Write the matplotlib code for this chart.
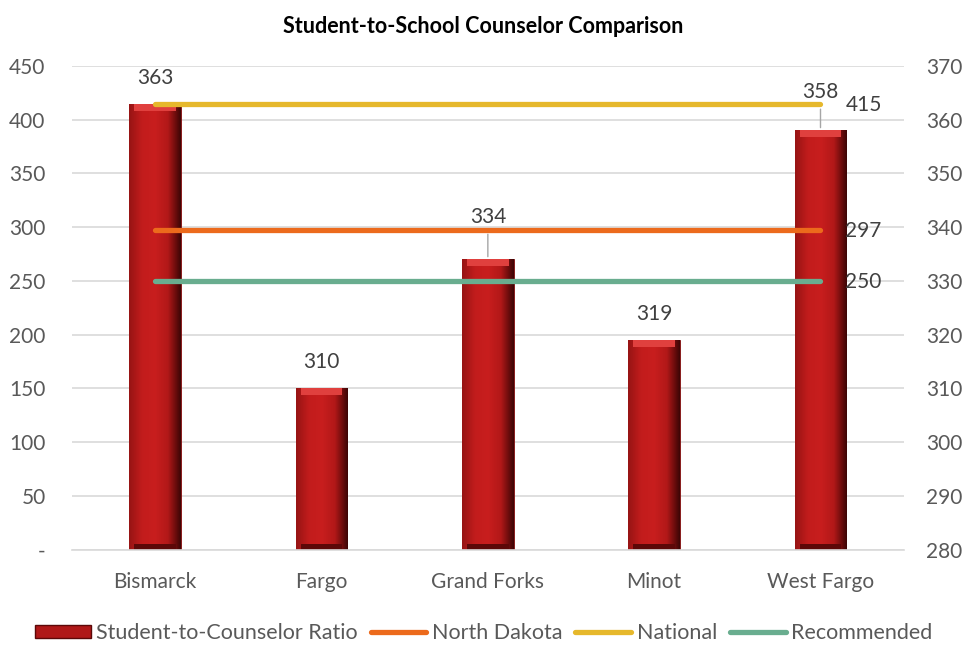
import matplotlib.pyplot as plt
import numpy as np
from matplotlib.colors import LinearSegmentedColormap
from matplotlib.lines import Line2D
from matplotlib.patches import Patch

districts = ['Bismarck', 'Fargo', 'Grand Forks', 'Minot', 'West Fargo']
ratios = [363, 310, 334, 319, 358]
north_dakota = 297
national = 415
recommended = 250

left_ticks = list(range(0, 451, 50))
left_labels = ['-'] + [str(t) for t in left_ticks[1:]]
right_ticks = list(range(280, 371, 10))

plt.rcParams['font.family'] = ['Lato', 'DejaVu Sans']

fig = plt.figure(figsize=(9.67, 6.46), dpi=100)
ax = fig.add_axes([0.0745, 0.149, 0.86, 0.749])
x = np.arange(len(districts))
width = 0.31

# bars live on the right-hand scale, drawn underneath the lines
bars = ax.bar(x, [r - 280 for r in ratios], width, bottom=280,
              color='#C01A1A', edgecolor='#7a0c0c', linewidth=0.6, zorder=2)

bar_cmap = LinearSegmentedColormap.from_list(
    'bevel', ['#961414', '#c21c1c', '#c81e1e', '#b21818', '#3c0505'])
grad = np.linspace(0, 1, 256).reshape(1, -1)
for rect, r in zip(bars, ratios):
    x0 = rect.get_x()
    im = ax.imshow(grad, cmap=bar_cmap, aspect='auto', zorder=2.1,
                   extent=[x0, x0 + width, 280, r], interpolation='bicubic')
    im.set_clip_path(rect)
    ax.fill_between([x0 + 0.03, x0 + width - 0.03], r - 1.3, r,
                    color='#e0403e', linewidth=0, zorder=2.2)
    ax.fill_between([x0 + 0.03, x0 + width - 0.03], 280, 281.0,
                    color='#5c0808', linewidth=0, zorder=2.2)
ax.set_xlim(-0.5, len(districts) - 0.5)
ax.set_ylim(280, 370)

ax.set_xticks(x)
ax.set_xticklabels(districts)
ax.grid(axis='y', color='#d9d9d9', linewidth=1.2, zorder=0)
ax.set_axisbelow(True)
for side in ['top', 'left', 'right']:
    ax.spines[side].set_visible(False)
ax.spines['bottom'].set_color('#d9d9d9')
ax.spines['bottom'].set_linewidth(1.2)

# bar value labels
offsets = [26, 26, 42, 26, 38]
for xi, r, off in zip(x, ratios, offsets):
    ax.annotate(str(r), (xi, r), xytext=(0, off), textcoords='offset pixels',
                ha='center', va='center', fontsize=15, color='#404040', zorder=5)
    if off > 30:
        ax.annotate('', (xi, r), xytext=(0, off - 14), textcoords='offset pixels',
                    arrowprops=dict(arrowstyle='-', color='#a6a6a6', lw=1),
                    zorder=4)

# reference lines on the left-hand scale
ax2 = ax.twinx()
ax2.set_ylim(0, 450)
ax2.yaxis.tick_left()
ax2.set_yticks(left_ticks)
ax2.set_yticklabels(left_labels)
ax2.tick_params(axis='y', length=0, labelsize=15, colors='#595959', pad=19)
for side in ['top', 'left', 'right', 'bottom']:
    ax2.spines[side].set_visible(False)

# twinx moves the first axes' ticks to the left, so put them back on the right
ax.yaxis.tick_right()
ax.set_yticks(right_ticks)
ax.tick_params(axis='both', length=0, labelsize=15, colors='#595959')
ax.tick_params(axis='y', pad=16)
ax.tick_params(axis='x', pad=16)

line_specs = [
    ('North Dakota', north_dakota, '#EC6A1C'),
    ('National', national, '#E6B82C'),
    ('Recommended', recommended, '#69AD8F'),
]
for name, val, col in line_specs:
    ax2.plot([x[0], x[-1]], [val, val], color=col, linewidth=3.8,
             solid_capstyle='round', zorder=3)
    ax2.annotate(str(val), (x[-1], val), xytext=(25, -1),
                 textcoords='offset pixels', ha='left', va='center',
                 fontsize=15, color='#404040')

fig.suptitle('Student-to-School Counselor Comparison', y=0.975,
             fontsize=15.5, fontweight='bold', color='black')

handles = [Patch(facecolor='#B01818', edgecolor='#5c0808',
                 label='Student-to-Counselor Ratio')]
handles += [Line2D([0], [0], color=c, linewidth=3.8, solid_capstyle='round',
                   label=n) for n, _, c in line_specs]
fig.legend(handles=handles, loc='center', bbox_to_anchor=(0.5, 0.02),
           ncol=4, frameon=False, fontsize=15.5, handlelength=2.6,
           handleheight=0.6, handletextpad=0.25, columnspacing=0.6,
           labelcolor='#595959')

fig.savefig('out.png', dpi=100)
